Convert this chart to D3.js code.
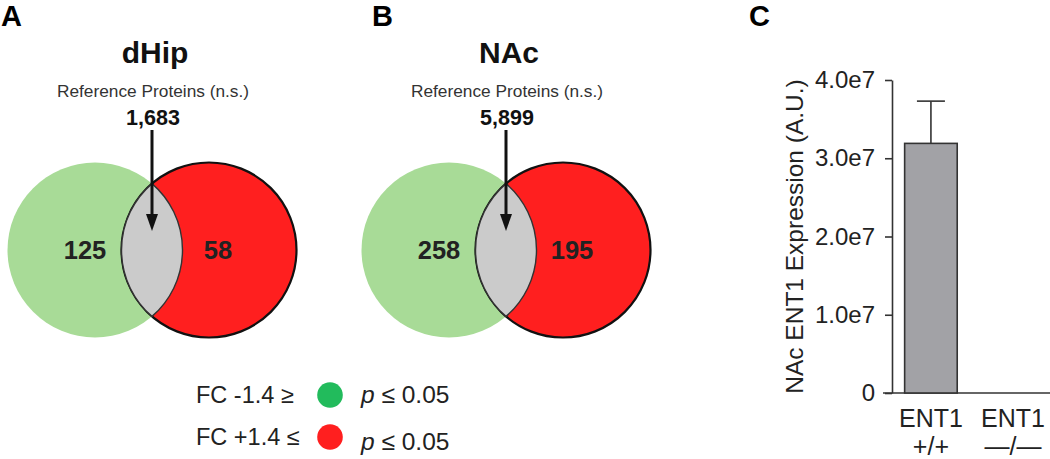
<!DOCTYPE html>
<html>
<head>
<meta charset="utf-8">
<script src="https://cdn.jsdelivr.net/npm/d3@7"></script>
<style>
  html, body { margin: 0; padding: 0; background: #fff; }
  svg { display: block; font-family: "Liberation Sans", Arial, sans-serif; }
</style>
</head>
<body>
<svg id="fig" width="1050" height="459"></svg>
<script>
// venn panels (A, B)
var regions = ['dHip', 'NAc'];
var panelLetters = ['A', 'B'];
var refCounts = [1683, 5899];
var downCounts = [125, 258];
var upCounts = [58, 195];

// bar panel (C)
var categories = ['ENT1 +/+', 'ENT1 \u2014/\u2014'];
var catLine1 = ['ENT1', 'ENT1'];
var catLine2 = ['+/+', '\u2014/\u2014'];
var means = [3.19e7, 0];
var sems = [0.54e7, 0];
var yTicks = [0, 1e7, 2e7, 3e7, 4e7];

// legend
var legendLeft = ['FC -1.4 \u2265', 'FC +1.4 \u2264'];
var legendColors = ['#22bb5c', '#ff1f1f'];

var svg = d3.select('#fig');
var fmt = d3.format(',');

var green = '#a8db97';
var red = '#ff1f1f';
var grey = '#cbcbcb';
var r = 87.5;
var half = 57;
var cy = 250;

var px = d3.scalePoint()
  .domain(regions)
  .range([152, 506]);

var letterX = d3.scaleOrdinal()
  .domain(regions)
  .range([1, 372]);

regions.forEach(function(name, i) {
  var cx = px(name);
  var g = svg.append('g');

  g.append('text')
    .attr('x', letterX(name))
    .attr('y', 26)
    .attr('font-size', 29)
    .attr('font-weight', 'bold')
    .text(panelLetters[i]);

  g.append('text')
    .attr('x', cx + 3)
    .attr('y', 63)
    .attr('text-anchor', 'middle')
    .attr('font-size', 30)
    .attr('font-weight', 'bold')
    .attr('fill', '#111')
    .text(name);

  g.append('text')
    .attr('x', cx + 1)
    .attr('y', 97)
    .attr('text-anchor', 'middle')
    .attr('font-size', 17.3)
    .attr('fill', '#333')
    .text('Reference Proteins (n.s.)');

  g.append('text')
    .attr('x', cx + 1)
    .attr('y', 125)
    .attr('text-anchor', 'middle')
    .attr('font-size', 21.5)
    .attr('font-weight', 'bold')
    .attr('fill', '#111')
    .text(fmt(refCounts[i]));

  var gx = cx - half;
  var rx = cx + half;

  g.append('circle')
    .attr('cx', gx)
    .attr('cy', cy)
    .attr('r', r)
    .attr('fill', green);

  g.append('circle')
    .attr('cx', rx)
    .attr('cy', cy)
    .attr('r', r)
    .attr('fill', red)
    .attr('stroke', '#111')
    .attr('stroke-width', 2.2);

  var hy = Math.sqrt(r * r - half * half);
  g.append('path')
    .attr('d', 'M' + cx + ',' + (cy - hy) +
      'A' + r + ',' + r + ' 0 0 1 ' + cx + ',' + (cy + hy) +
      'A' + r + ',' + r + ' 0 0 1 ' + cx + ',' + (cy - hy) + 'Z')
    .attr('fill', grey)
    .attr('stroke', '#333')
    .attr('stroke-width', 1.4);

  // arrow
  g.append('line')
    .attr('x1', cx)
    .attr('x2', cx)
    .attr('y1', 130)
    .attr('y2', 218)
    .attr('stroke', '#111')
    .attr('stroke-width', 3);

  g.append('path')
    .attr('d', 'M' + (cx - 6) + ',214L' + (cx + 6) + ',214L' + cx + ',231Z')
    .attr('fill', '#111');

  g.append('text')
    .attr('x', gx - 10)
    .attr('y', 259)
    .attr('text-anchor', 'middle')
    .attr('font-size', 25.5)
    .attr('font-weight', 'bold')
    .attr('fill', '#222')
    .text(downCounts[i]);

  g.append('text')
    .attr('x', rx + 9)
    .attr('y', 259)
    .attr('text-anchor', 'middle')
    .attr('font-size', 25.5)
    .attr('font-weight', 'bold')
    .attr('fill', '#222')
    .text(upCounts[i]);
});

// legend
var ly = d3.scalePoint()
  .domain(legendLeft)
  .range([395, 437]);

legendLeft.forEach(function(label, i) {
  var y0 = ly(label);

  svg.append('text')
    .attr('x', 196)
    .attr('y', y0 + 8)
    .attr('font-size', 23.5)
    .attr('fill', '#222')
    .text(label);

  svg.append('circle')
    .attr('cx', 330)
    .attr('cy', y0)
    .attr('r', 12.8)
    .attr('fill', legendColors[i]);

  var t = svg.append('text')
    .attr('x', 361)
    .attr('y', y0 + 8 + (i === 1 ? 5 : 0))
    .attr('font-size', 24.5)
    .attr('fill', '#222');

  t.append('tspan')
    .attr('font-style', 'italic')
    .text('p');

  t.append('tspan')
    .text(' \u2264 0.05');
});

// panel C
svg.append('text')
  .attr('x', 749)
  .attr('y', 26)
  .attr('font-size', 29)
  .attr('font-weight', 'bold')
  .text('C');

var y = d3.scaleLinear()
  .domain([0, 4e7])
  .range([393, 80]);

var x = d3.scaleBand()
  .domain(categories)
  .range([880, 1064])
  .paddingInner(0.36)
  .paddingOuter(0.3);

var axisX = 892;

var yAxis = d3.axisLeft(y)
  .tickValues(yTicks)
  .tickSize(7)
  .tickSizeOuter(0)
  .tickPadding(10)
  .tickFormat(function(d) {
    return d === 0 ? '0' : (d / 1e7).toFixed(1) + 'e7';
  });

var ga = svg.append('g')
  .attr('transform', 'translate(' + axisX + ',0)')
  .call(yAxis);

ga.selectAll('path, line')
  .attr('stroke', '#333')
  .attr('stroke-width', 1.6);

ga.selectAll('text')
  .attr('font-family', '"Liberation Sans", Arial, sans-serif')
  .attr('font-size', 24)
  .attr('fill', '#222');

svg.append('line')
  .attr('x1', axisX - 9)
  .attr('x2', 1050)
  .attr('y1', y(0))
  .attr('y2', y(0))
  .attr('stroke', '#333')
  .attr('stroke-width', 1.6);

svg.append('text')
  .attr('transform', 'translate(803,' + ((y(0) + y(4e7)) / 2) + ') rotate(-90)')
  .attr('text-anchor', 'middle')
  .attr('font-size', 24.5)
  .attr('fill', '#222')
  .text('NAc ENT1 Expression (A.U.)');

var bars = svg.selectAll('.bar')
  .data(categories)
  .enter()
  .append('g')
  .attr('class', 'bar');

bars.filter(function(d, i) { return means[i] > 0; })
  .append('rect')
  .attr('x', function(d) { return x(d); })
  .attr('width', x.bandwidth())
  .attr('y', function(d) { return y(means[categories.indexOf(d)]); })
  .attr('height', function(d) { return y(0) - y(means[categories.indexOf(d)]); })
  .attr('fill', '#a2a2a6')
  .attr('stroke', '#333')
  .attr('stroke-width', 1.6);

bars.each(function(d, i) {
  if (sems[i] <= 0) return;
  var c = x(d) + x.bandwidth() / 2;
  var g = d3.select(this);
  g.append('line')
    .attr('x1', c).attr('x2', c)
    .attr('y1', y(means[i])).attr('y2', y(means[i] + sems[i]))
    .attr('stroke', '#333')
    .attr('stroke-width', 1.6);
  g.append('line')
    .attr('x1', c - 14).attr('x2', c + 14)
    .attr('y1', y(means[i] + sems[i])).attr('y2', y(means[i] + sems[i]))
    .attr('stroke', '#333')
    .attr('stroke-width', 1.6);
});

bars.append('text')
  .attr('x', function(d) { return x(d) + x.bandwidth() / 2; })
  .attr('y', 427)
  .attr('text-anchor', 'middle')
  .attr('font-size', 25)
  .attr('fill', '#222')
  .text(function(d, i) { return catLine1[i]; });

bars.append('text')
  .attr('x', function(d) { return x(d) + x.bandwidth() / 2; })
  .attr('y', 455)
  .attr('text-anchor', 'middle')
  .attr('font-size', 25)
  .attr('fill', '#222')
  .text(function(d, i) { return catLine2[i]; });
</script>
</body>
</html>
